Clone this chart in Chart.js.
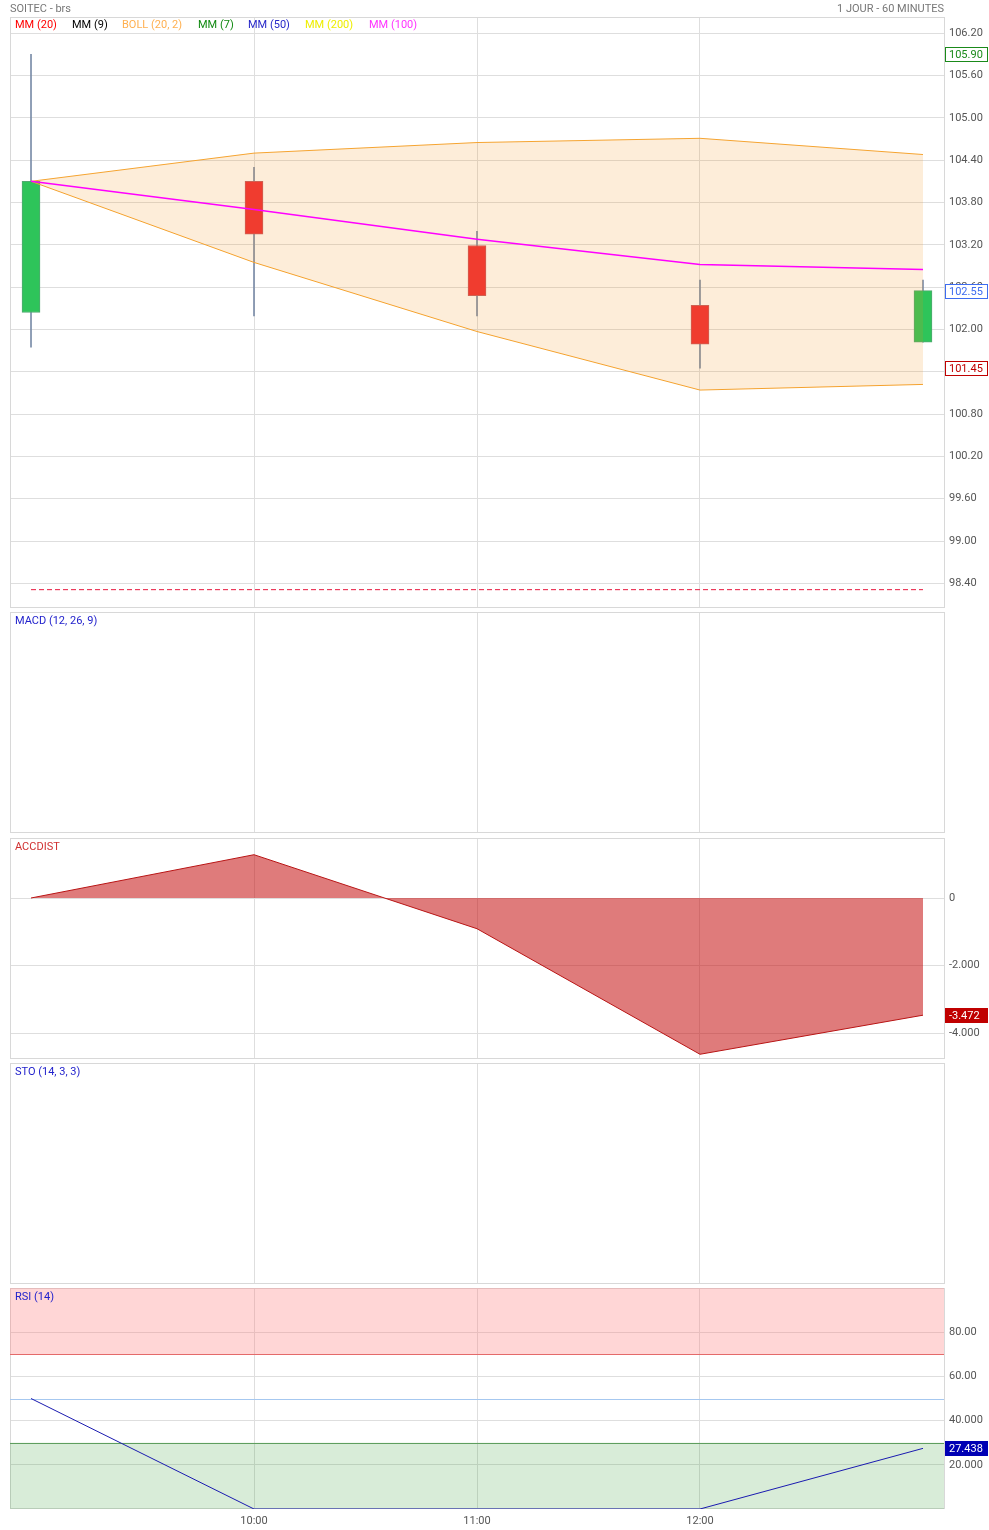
<!DOCTYPE html>
<html>
<head>
<meta charset="utf-8">
<script src="https://cdn.jsdelivr.net/npm/chart.js@4.4.1/dist/chart.umd.min.js"></script>
<style>
  html, body { margin: 0; padding: 0; background: #fff; }
  #wrap { position: relative; width: 989px; height: 1530px; overflow: hidden; font-family: Roboto, "Noto Sans", sans-serif; }
  canvas { position: absolute; left: 0; }
  .t { position: absolute; font-size: 11px; line-height: 14px; white-space: nowrap; }
</style>
</head>
<body>
<div id="wrap">
  <canvas id="cMain" width="989" height="619" style="top:3px"></canvas>
  <canvas id="cMacd" width="989" height="249" style="top:598px"></canvas>
  <canvas id="cAcc" width="989" height="249" style="top:824px"></canvas>
  <canvas id="cSto" width="989" height="249" style="top:1049px"></canvas>
  <canvas id="cRsi" width="989" height="256" style="top:1274px"></canvas>

  <div class="t" style="left:10px;top:2px;color:#777">SOITEC - brs</div>
  <div class="t" style="right:45px;top:2px;color:#777">1 JOUR - 60 MINUTES</div>

  <div class="t" style="left:15px;top:18px;color:#ff0000">MM (20)</div>
  <div class="t" style="left:72px;top:18px;color:#000000">MM (9)</div>
  <div class="t" style="left:122px;top:18px;color:#ffb050">BOLL (20, 2)</div>
  <div class="t" style="left:198px;top:18px;color:#128a12">MM (7)</div>
  <div class="t" style="left:248px;top:18px;color:#2828c8">MM (50)</div>
  <div class="t" style="left:305px;top:18px;color:#eeee00">MM (200)</div>
  <div class="t" style="left:369px;top:18px;color:#ff33ff">MM (100)</div>

  <div class="t" style="left:15px;top:614px;color:#2222cc">MACD (12, 26, 9)</div>
  <div class="t" style="left:15px;top:840px;color:#d03030">ACCDIST</div>
  <div class="t" style="left:15px;top:1065px;color:#2222cc">STO (14, 3, 3)</div>
  <div class="t" style="left:15px;top:1290px;color:#2222cc">RSI (14)</div>
</div>
<script>
// ---------- DATA ----------
const CATEGORIES = ["09:00", "10:00", "11:00", "12:00", "13:00"];
const X_TICK_LABELS = ["10:00", "11:00", "12:00"];

const OPEN  = [102.24, 104.10, 103.19, 102.34, 101.82];
const CLOSE = [104.10, 103.35, 102.48, 101.79, 102.55];
const HIGH  = [105.90, 104.30, 103.39, 102.70, 102.70];
const LOW   = [101.75, 102.19, 102.19, 101.45, 101.82];

const BOLL_UPPER = [104.10, 104.50, 104.65, 104.71, 104.48];
const BOLL_LOWER = [104.10, 102.95, 101.97, 101.14, 101.22];
const MM100      = [104.10, 103.70, 103.28, 102.92, 102.85];
const REF_LINE   = 98.31;

const PRICE_TICKS = [98.40, 99.00, 99.60, 100.20, 100.80, 101.40, 102.00, 102.60, 103.20, 103.80, 104.40, 105.00, 105.60, 106.20];
const DAY_HIGH = 105.90;
const DAY_LOW = 101.45;
const LAST_PRICE = 102.55;

const ACCDIST = [0, 1283, -910, -4630, -3472];
const ACC_TICKS = [0, -2000, -4000];

const RSI = [50, 0, 0, 0, 27.438];
const RSI_TICKS = [20, 40, 60, 80];
const RSI_TICK_LABELS = ["20.000", "40.000", "60.00", "80.00"];
const RSI_UPPER = 70, RSI_MID = 50, RSI_LOWER = 30;

// ---------- HELPERS ----------
const FONT = { family: 'Roboto', size: 11 };
const GRID = '#dedede';
const PAD = 14;
const X_MIN = -0.0942, X_MAX = (CATEGORIES.length - 1) + 0.0942;

function pts(arr) { return arr.map((v, i) => ({ x: i, y: v })); }

function xScale(showLabels) {
  return {
    type: 'linear', min: X_MIN, max: X_MAX, offset: false,
    afterBuildTicks: s => { s.ticks = X_TICK_LABELS.map(l => ({ value: CATEGORIES.indexOf(l) })); },
    ticks: { display: showLabels, padding: 6, color: '#555', font: FONT, maxRotation: 0, autoSkip: false,
             callback: v => CATEGORIES[v] },
    grid: { color: GRID, drawTicks: false, lineWidth: 1, offset: false },
    border: { display: false },
    afterFit: s => { s.height = showLabels ? 21 : 0; }
  };
}

function yScale(min, max, ticks, fmt, showGrid) {
  return {
    position: 'right', min: min, max: max,
    afterBuildTicks: s => { s.ticks = ticks.map(v => ({ value: v })); },
    ticks: { display: !!fmt, padding: 5, color: '#555', font: FONT, autoSkip: false,
             callback: (v, i) => fmt ? fmt(v, i) : '' },
    grid: { display: showGrid, color: GRID, drawTicks: false, lineWidth: 1 },
    border: { display: false },
    afterFit: s => { s.width = 45; }
  };
}

const panelBorder = {
  id: 'panelBorder',
  beforeDatasetsDraw(chart) {
    const a = chart.chartArea, c = chart.ctx;
    c.save();
    c.strokeStyle = '#d8d8d8'; c.lineWidth = 1;
    c.strokeRect(Math.round(a.left) + 0.5, Math.round(a.top) + 0.5,
                 Math.round(a.right - a.left), Math.round(a.bottom - a.top) - 1);
    c.restore();
  }
};

function valueBoxes(boxes) {
  return {
    id: 'valueBoxes',
    afterDraw(chart) {
      const c = chart.ctx, y = chart.scales.y, a = chart.chartArea;
      c.save();
      c.font = '11px Roboto';
      c.textBaseline = 'middle';
      boxes.forEach(b => {
        const py = Math.round(y.getPixelForValue(b.value));
        const x0 = Math.round(a.right) + 1, w = 43, h = 15;
        const top = py - 7;
        c.fillStyle = b.bg;
        c.fillRect(x0, top, w, h);
        if (b.border) {
          c.strokeStyle = b.border; c.lineWidth = 1;
          c.strokeRect(x0 + 0.5, top + 0.5, w - 1, h - 1);
        }
        c.fillStyle = b.fg;
        c.textAlign = 'left';
        c.fillText(b.text, x0 + 4, py + 1);
      });
      c.restore();
    }
  };
}

const rsiZones = {
  id: 'rsiZones',
  beforeDatasetsDraw(chart) {
    const c = chart.ctx, y = chart.scales.y, a = chart.chartArea;
    const p = v => y.getPixelForValue(v);
    c.save();
    c.fillStyle = 'rgba(255,120,120,0.30)';
    c.fillRect(a.left, p(100), a.right - a.left, p(RSI_UPPER) - p(100));
    c.fillStyle = 'rgba(60,160,60,0.20)';
    c.fillRect(a.left, p(RSI_LOWER), a.right - a.left, p(0) - p(RSI_LOWER));
    const line = (v, col) => {
      const yy = Math.round(p(v)) + 0.5;
      c.strokeStyle = col; c.lineWidth = 1;
      c.beginPath(); c.moveTo(a.left, yy); c.lineTo(a.right, yy); c.stroke();
    };
    line(RSI_UPPER, '#e46a6a');
    line(RSI_MID, '#a6c8f0');
    line(RSI_LOWER, '#5e9e5e');
    c.restore();
  }
};

function baseOptions(scales, padTop, padBottom) {
  return {
    responsive: false, animation: false, devicePixelRatio: 1,
    layout: { padding: { left: 10, right: 0, top: padTop, bottom: padBottom } },
    plugins: { legend: { display: false }, tooltip: { enabled: false } },
    events: [],
    scales: scales
  };
}

// ---------- MAIN PRICE PANEL ----------
const isUp = i => CLOSE[i] >= OPEN[i];
new Chart(document.getElementById('cMain'), {
  type: 'line',
  data: {
    datasets: [
      { type: 'line', data: pts(BOLL_UPPER), borderColor: '#f5a431', borderWidth: 1, pointRadius: 0,
        fill: '+1', backgroundColor: 'rgba(240,140,20,0.16)', order: 2 },
      { type: 'line', data: pts(BOLL_LOWER), borderColor: '#f5a431', borderWidth: 1, pointRadius: 0,
        fill: false, order: 2 },
      { type: 'line', data: pts(MM100), borderColor: '#ff00ff', borderWidth: 1.5, pointRadius: 0,
        fill: false, order: 1 },
      { type: 'line', data: [{ x: 0, y: REF_LINE }, { x: CATEGORIES.length - 1, y: REF_LINE }],
        borderColor: '#e8183e', borderWidth: 1, borderDash: [5, 3], pointRadius: 0, fill: false, order: 1 },
      { type: 'bar', data: OPEN.map((o, i) => ({ x: i, y: [o, CLOSE[i]] })),
        backgroundColor: OPEN.map((o, i) => isUp(i) ? '#2ec45a' : '#f02d35'),
        borderColor: OPEN.map((o, i) => isUp(i) ? '#52a872' : '#c85a60'),
        borderWidth: 1, borderSkipped: false, barThickness: 18, grouped: false, order: 5 },
      { type: 'bar', data: LOW.map((l, i) => ({ x: i, y: [l, HIGH[i]] })),
        backgroundColor: '#7a8ca8', borderWidth: 0, barThickness: 1, grouped: false, order: 6 }
    ]
  },
  options: baseOptions({
    x: xScale(false),
    y: yScale(98.05, 106.43, PRICE_TICKS, v => v.toFixed(2), true)
  }, PAD, PAD),
  plugins: [panelBorder, valueBoxes([
    { value: DAY_HIGH, text: DAY_HIGH.toFixed(2), bg: '#fff', border: '#1a8a1a', fg: '#1a8a1a' },
    { value: LAST_PRICE, text: LAST_PRICE.toFixed(2), bg: '#fff', border: '#3d6cf0', fg: '#3d6cf0' },
    { value: DAY_LOW, text: DAY_LOW.toFixed(2), bg: '#fff', border: '#c00000', fg: '#c00000' }
  ])]
});

// ---------- EMPTY PANELS ----------
function emptyPanel(id) {
  new Chart(document.getElementById(id), {
    type: 'line',
    data: { datasets: [] },
    options: baseOptions({ x: xScale(false), y: yScale(0, 1, [], null, false) }, PAD, PAD),
    plugins: [panelBorder]
  });
}
emptyPanel('cMacd');
emptyPanel('cSto');

// ---------- ACCDIST ----------
const lastAcc = ACCDIST[ACCDIST.length - 1];
new Chart(document.getElementById('cAcc'), {
  type: 'line',
  data: {
    datasets: [
      { data: pts(ACCDIST), borderColor: '#b81414', borderWidth: 1, pointRadius: 0,
        fill: 'origin', backgroundColor: 'rgba(198,20,20,0.56)' }
    ]
  },
  options: baseOptions({
    x: xScale(false),
    y: yScale(-4770, 1778, ACC_TICKS, v => v.toLocaleString('de-DE'), true)
  }, PAD, PAD),
  plugins: [panelBorder, valueBoxes([
    { value: lastAcc, text: lastAcc.toLocaleString('de-DE'), bg: '#c00000', fg: '#fff' }
  ])]
});

// ---------- RSI ----------
const lastRsi = RSI[RSI.length - 1];
new Chart(document.getElementById('cRsi'), {
  type: 'line',
  data: {
    datasets: [
      { data: pts(RSI), borderColor: '#1a1ab0', borderWidth: 1, pointRadius: 0, fill: false }
    ]
  },
  options: baseOptions({
    x: xScale(true),
    y: yScale(0, 100, RSI_TICKS, (v, i) => RSI_TICK_LABELS[i], true)
  }, PAD, 0),
  plugins: [panelBorder, rsiZones, valueBoxes([
    { value: lastRsi, text: lastRsi.toFixed(3), bg: '#0000b4', fg: '#fff' }
  ])]
});
</script>
</body>
</html>
